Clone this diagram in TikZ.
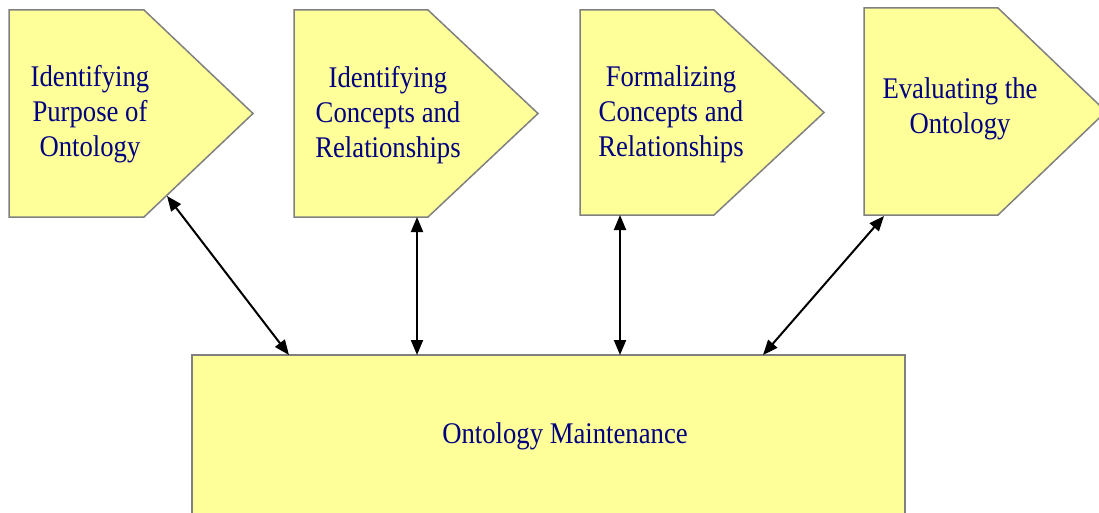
\documentclass[tikz,border=0pt]{standalone}
\usepackage{fontspec}
\setmainfont{Liberation Serif}
\newfontfamily\stagefont[FakeStretch=0.89]{Liberation Serif}
\usetikzlibrary{arrows.meta}
\definecolor{stagefill}{HTML}{FFFF99}
\definecolor{stageline}{HTML}{808080}
\definecolor{stageink}{HTML}{000080}
\begin{document}
\begin{tikzpicture}[x=1pt,y=-1pt,
  stagebox/.style={fill=stagefill, draw=stageline, line width=1.5pt, line join=miter},
  stagetext/.style={text=stageink, font=\stagefont\fontsize{30}{35}\selectfont, align=center, inner sep=0pt},
  link/.style={draw=black, line width=2pt,
    {Triangle[length=15pt,width=12pt]}-{Triangle[length=15pt,width=12pt]}}]
  \useasboundingbox (0,0) rectangle (1099,513);
  \clip (0,0) rectangle (1099,513);

  % process stages (pentagon arrows)
  \draw[stagebox] (9,10) -- (144,10) -- (253,113.5) -- (144,217) -- (9,217) -- cycle;
  \draw[stagebox] (294,10) -- (428,10) -- (538,113.5) -- (428,217) -- (294,217) -- cycle;
  \draw[stagebox] (580,10) -- (714,10) -- (824,112.5) -- (714,215) -- (580,215) -- cycle;
  \draw[stagebox] (864,8) -- (998,8) -- (1106,111.5) -- (998,215) -- (864,215) -- cycle;

  \node[stagetext] (s1) at (90,114) {Identifying\\Purpose of\\Ontology};
  \node[stagetext] (s2) at (388,115) {Identifying\\Concepts and\\Relationships};
  \node[stagetext] (s3) at (671,114) {Formalizing\\Concepts and\\Relationships};
  \node[stagetext] (s4) at (960,109) {Evaluating the\\Ontology};

  % maintenance block
  \draw[stagebox] (192,355) rectangle (905,530);
  \node[stagetext] (m) at (565,436) {Ontology Maintenance};

  % connector end points
  \coordinate (a1) at (167,196);
  \coordinate (b1) at (289,355);
  \coordinate (a2) at (417,217);
  \coordinate (b2) at (417,355);
  \coordinate (a3) at (620,215);
  \coordinate (b3) at (620,355);
  \coordinate (a4) at (884,216);
  \coordinate (b4) at (763,355);

  \draw[link] (a1) -- (b1);
  \draw[link] (a2) -- (b2);
  \draw[link] (a3) -- (b3);
  \draw[link] (a4) -- (b4);
\end{tikzpicture}
\end{document}
